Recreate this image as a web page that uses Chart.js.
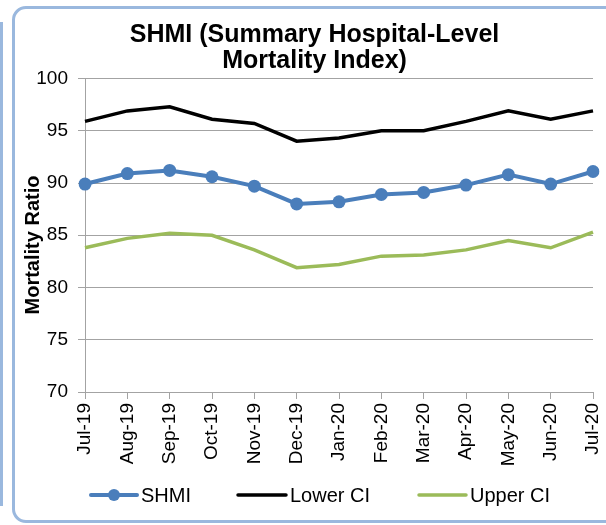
<!DOCTYPE html>
<html>
<head>
<meta charset="utf-8">
<script src="https://cdn.jsdelivr.net/npm/chart.js@4/dist/chart.umd.min.js"></script>
<style>
  html, body { margin: 0; padding: 0; background: #fff; }
  #wrap { position: relative; width: 606px; height: 525px; overflow: hidden; }
  .frame { position: absolute; border: 3px solid #9ab8de; border-radius: 14px; box-sizing: border-box; }
  #outer { left: 12px; top: 6px; width: 620px; height: 517px; }
  #edge { left: -20px; top: 22px; width: 23px; height: 484px; border-radius: 0; border-left: none; border-top: none; border-bottom: none; }
  canvas { position: absolute; left: 0; top: 0; }
</style>
</head>
<body>
<div id="wrap">
  <div class="frame" id="edge"></div>
  <div class="frame" id="outer"></div>
  <canvas id="chart" width="606" height="525"></canvas>
</div>
<script>
// Monthly reporting periods
const months = ['Jul-19','Aug-19','Sep-19','Oct-19','Nov-19','Dec-19','Jan-20','Feb-20','Mar-20','Apr-20','May-20','Jun-20','Jul-20'];

// Series values
const shmi    = [89.9, 90.9, 91.2, 90.6, 89.7, 88.0, 88.2, 88.9, 89.1, 89.8, 90.8, 89.9, 91.1];
const lowerCI = [95.9, 96.9, 97.3, 96.1, 95.7, 94.0, 94.3, 95.0, 95.0, 95.9, 96.9, 96.1, 96.9];
const upperCI = [83.8, 84.7, 85.2, 85.0, 83.6, 81.9, 82.2, 83.0, 83.1, 83.6, 84.5, 83.8, 85.3];

// Y axis range and step
const yMin = 70, yMax = 100, yStep = 5;
const yTitle = 'Mortality Ratio';

const FONT = "'Liberation Sans', Arial, sans-serif";
const GRID = '#a3a3a3';

// Vertical axis caption, drawn beside the tick labels
const yCaption = {
  id: 'yCaption',
  afterDraw(chart) {
    const ctx = chart.ctx;
    ctx.save();
    ctx.translate(33, 245);
    ctx.rotate(-Math.PI / 2);
    ctx.font = 'bold 20px ' + FONT;
    ctx.fillStyle = '#000';
    ctx.textAlign = 'center';
    ctx.textBaseline = 'middle';
    ctx.fillText(yTitle, 0, 0);
    ctx.restore();
  }
};

// Legend drawn below the plot: a line sample (with a dot for SHMI) then the label
const bottomLegend = {
  id: 'bottomLegend',
  afterDraw(chart) {
    const ctx = chart.ctx;
    const y = 495;
    const items = [
      { x: 91,  w: 46, ds: 0 },
      { x: 238, w: 48, ds: 1 },
      { x: 419, w: 47, ds: 2 }
    ];
    ctx.save();
    ctx.font = '20px ' + FONT;
    ctx.textBaseline = 'middle';
    ctx.textAlign = 'left';
    items.forEach(it => {
      const ds = chart.data.datasets[it.ds];
      ctx.strokeStyle = ds.borderColor;
      ctx.lineWidth = ds.borderWidth;
      ctx.lineCap = 'round';
      ctx.beginPath();
      ctx.moveTo(it.x, y);
      ctx.lineTo(it.x + it.w, y);
      ctx.stroke();
      if (ds.pointRadius > 0) {
        ctx.fillStyle = ds.pointBackgroundColor;
        ctx.beginPath();
        ctx.arc(it.x + it.w / 2, y, ds.pointRadius - 0.5, 0, Math.PI * 2);
        ctx.fill();
      }
      ctx.fillStyle = '#000';
      ctx.fillText(ds.label, it.x + it.w + 4, y + 1);
    });
    ctx.restore();
  }
};

new Chart(document.getElementById('chart'), {
  type: 'line',
  data: {
    labels: months,
    datasets: [
      {
        label: 'SHMI',
        data: shmi,
        borderColor: '#4a7ebb',
        backgroundColor: '#4a7ebb',
        pointBackgroundColor: '#4a7ebb',
        pointBorderColor: '#4a7ebb',
        borderWidth: 4,
        pointRadius: 6.5,
        pointBorderWidth: 0,
        tension: 0,
        order: 0
      },
      {
        label: 'Lower CI',
        data: lowerCI,
        borderColor: '#000000',
        backgroundColor: '#000000',
        borderWidth: 3.5,
        pointRadius: 0,
        tension: 0,
        order: 1
      },
      {
        label: 'Upper CI',
        data: upperCI,
        borderColor: '#9bbb59',
        backgroundColor: '#9bbb59',
        borderWidth: 3.5,
        pointRadius: 0,
        tension: 0,
        order: 2
      }
    ]
  },
  options: {
    responsive: false,
    animation: false,
    devicePixelRatio: 1,
    layout: { padding: { left: 36, right: 13, top: 0, bottom: 60 } },
    plugins: {
      legend: { display: false },
      tooltip: { enabled: false },
      title: {
        display: true,
        text: ['SHMI (Summary Hospital-Level', 'Mortality Index)'],
        color: '#000',
        font: { family: FONT, size: 25, weight: 'bold', lineHeight: 1.05 },
        padding: { top: 22, bottom: 4 }
      }
    },
    scales: {
      x: {
        offset: false,
        grid: { display: true, drawOnChartArea: false, drawTicks: true, tickLength: 7, color: GRID },
        border: { color: GRID, width: 1 },
        ticks: {
          color: '#000',
          font: { family: FONT, size: 19 },
          minRotation: 90,
          maxRotation: 90,
          autoSkip: false,
          padding: 4
        },
        afterFit(axis) {
          axis.height = 73;
          axis.paddingLeft = 0;
          axis.paddingRight = 0;
        }
      },
      y: {
        min: yMin,
        max: yMax,
        grid: { color: GRID, tickLength: 7, lineWidth: 1 },
        border: { color: GRID, width: 1 },
        ticks: {
          stepSize: yStep,
          color: '#000',
          font: { family: FONT, size: 19 },
          padding: 10
        },
        afterFit(axis) {
          axis.width = 49;
          axis.paddingTop = 0;
          axis.paddingBottom = 0;
        }
      }
    }
  },
  plugins: [yCaption, bottomLegend]
});
</script>
</body>
</html>
